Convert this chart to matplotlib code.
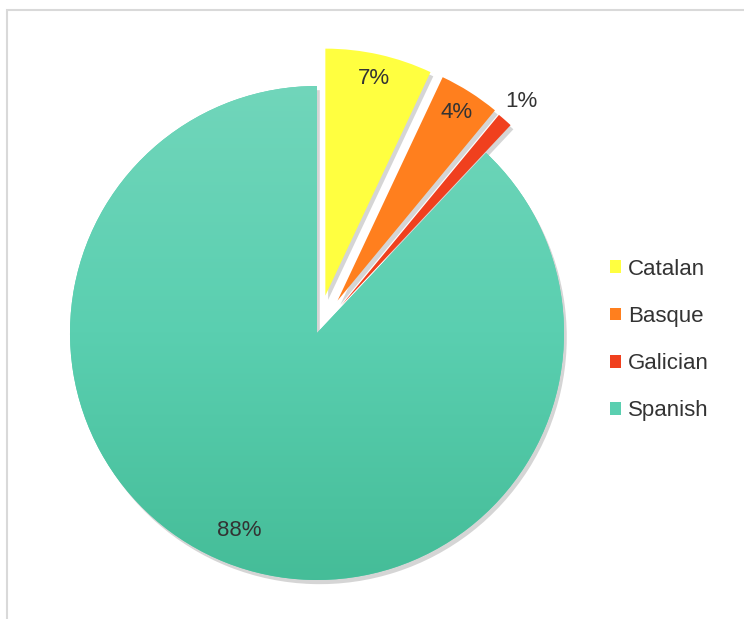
import matplotlib

matplotlib.use("Agg")
import matplotlib.pyplot as plt
import numpy as np
from matplotlib import patheffects
from matplotlib.colors import LinearSegmentedColormap
from matplotlib.patches import Rectangle

plt.rcParams["font.family"] = ["Liberation Sans", "DejaVu Sans"]

languages = ["Catalan", "Basque", "Galician", "Spanish"]
shares = [7, 4, 1, 88]
colors = ["#FFFF40", "#FF7F1E", "#F0401E", "#5ACFB0"]
explode = [0.155, 0.155, 0.15, 0.0]
label_dist = [0.9, 0.9, 1.1, 0.86]

fig = plt.figure(figsize=(7.44, 6.19), dpi=100)
ax = fig.add_axes([0, 0, 1, 1])
ax.set_aspect("equal")
ax.axis("off")

# 1 unit of radius ~ 247 px, pie centre at (317, 333) from top-left
scale = 247.0

wedges, _ = ax.pie(
    shares,
    colors=colors,
    explode=explode,
    startangle=90,
    counterclock=False,
    radius=1.0,
    center=(0, 0),
    wedgeprops={"linewidth": 0},
)
ax.set_xlim(-317 / scale, (744 - 317) / scale)
ax.set_ylim(-(619 - 333) / scale, 333 / scale)

shadow = [patheffects.SimplePatchShadow(offset=(2, -3), shadow_rgbFace="#888888", alpha=0.35),
          patheffects.Normal()]
for w in wedges:
    w.set_path_effects(shadow)

# vertical shading on the big slice
big = wedges[3]
grad = np.linspace(0, 1, 256).reshape(-1, 1)
cmap = LinearSegmentedColormap.from_list("sp", ["#44BC97", "#5ACFB0", "#72D6BB"])
img = ax.imshow(grad, cmap=cmap, origin="lower", extent=(-1.1, 1.1, -1.05, 1.05),
                aspect="auto", zorder=big.get_zorder() + 0.1)
img.set_clip_path(big)

# percentage labels
total = sum(shares)
for w, share, dist in zip(wedges, shares, label_dist):
    mid = np.deg2rad((w.theta1 + w.theta2) / 2)
    cx, cy = w.center
    ax.text(cx + dist * w.r * np.cos(mid), cy + dist * w.r * np.sin(mid),
            f"{round(100 * share / total)}%", ha="center", va="center",
            fontsize=16, color="#333333", zorder=5)

leg = ax.legend(wedges, languages, loc="center left", bbox_to_anchor=(610 / 744, 1 - 340 / 619),
                frameon=False, fontsize=16, handlelength=0.5, handleheight=0.5,
                handletextpad=0.3, labelspacing=1.18, borderaxespad=0, borderpad=0)
for t in leg.get_texts():
    t.set_color("#333333")
for h in leg.legend_handles:
    h.set_path_effects([])

fig.add_artist(Rectangle((7 / 744, -0.1), 1.2, 1 - 10 / 619 + 0.1, transform=fig.transFigure,
                         fill=False, edgecolor="#D9D9D9", linewidth=1.5))

fig.savefig("out.png", dpi=100)
